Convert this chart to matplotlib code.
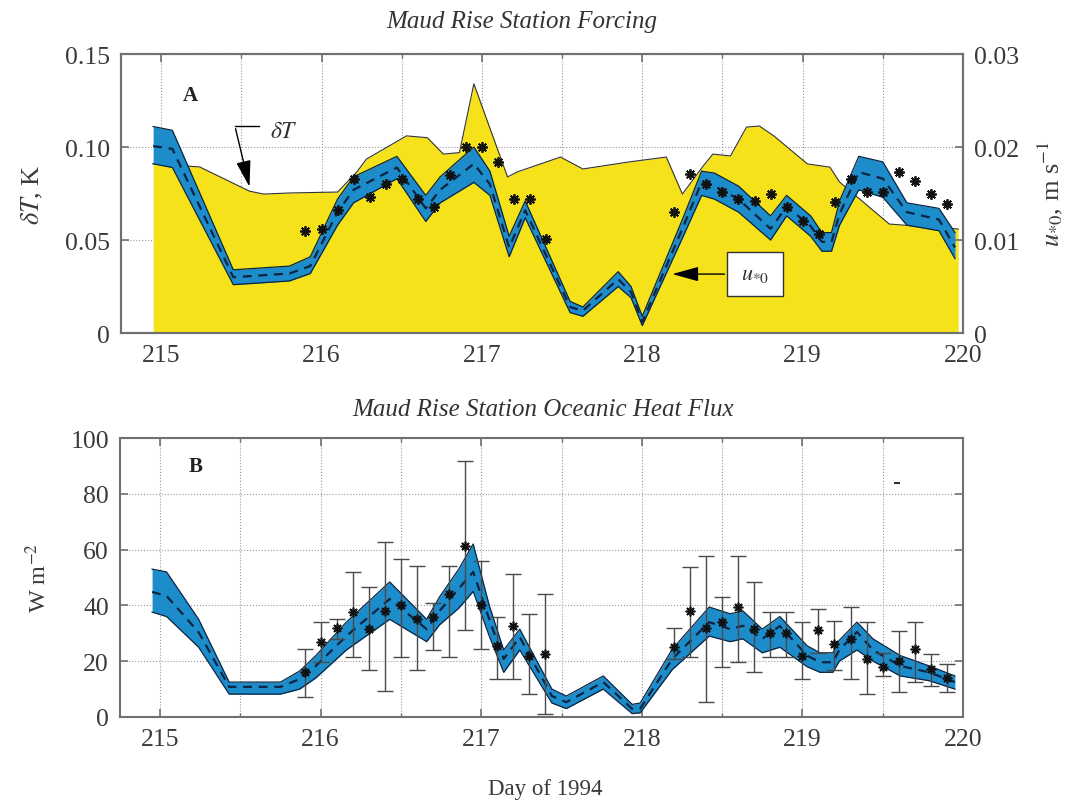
import matplotlib
matplotlib.use('Agg')
import matplotlib.pyplot as plt
from matplotlib.patches import Rectangle
from matplotlib.ticker import MultipleLocator

plt.rcParams['font.family'] = ['Liberation Serif', 'DejaVu Serif']
plt.rcParams['mathtext.fontset'] = 'stix'

# ---------------- Panel A data ----------------
dT_day = [214.95, 215.24, 215.55, 215.64, 215.80, 216.10, 216.22, 216.28, 216.53, 216.66,
          216.76, 216.86, 216.95, 217.16, 217.22, 217.49, 217.63, 217.91, 218.15, 218.25,
          218.38, 218.44, 218.55, 218.65, 218.73, 218.82, 219.03, 219.17, 219.23, 219.54,
          219.71, 219.84, 219.97]
dT_val = [0.091, 0.0893, 0.0763, 0.0747, 0.0753, 0.0758, 0.0866, 0.0935, 0.106, 0.105,
          0.0962, 0.097, 0.134, 0.0839, 0.0866, 0.0946, 0.0882, 0.0919, 0.0946, 0.0747,
          0.0898, 0.0962, 0.0952, 0.1107, 0.1113, 0.106, 0.0909, 0.0892, 0.0812, 0.0586,
          0.0575, 0.057, 0.0559]

u_day = [214.95, 215.07, 215.45, 215.80, 215.93, 216.10, 216.20, 216.47, 216.65, 216.74,
         216.95, 217.05, 217.17, 217.27, 217.55, 217.63, 217.85, 217.93, 218.00, 218.25,
         218.37, 218.45, 218.60, 218.80, 218.90, 219.05, 219.12, 219.18, 219.23, 219.35,
         219.50, 219.65, 219.85, 219.95]
u_mid = [0.0201, 0.0198, 0.0060, 0.0064, 0.0072, 0.0130, 0.0154, 0.0178, 0.0134, 0.0154,
         0.0182, 0.0160, 0.0092, 0.0132, 0.0028, 0.0024, 0.0058, 0.0044, 0.0012, 0.0112,
         0.0162, 0.0158, 0.0144, 0.0112, 0.0136, 0.0115, 0.0098, 0.0098, 0.0128, 0.0173,
         0.0166, 0.0130, 0.0122, 0.0092]
u_hi = [0.0222, 0.0218, 0.0068, 0.0072, 0.0082, 0.0144, 0.0168, 0.0190, 0.0148, 0.0168,
        0.0200, 0.0174, 0.0104, 0.0142, 0.0034, 0.0028, 0.0066, 0.0050, 0.0018, 0.0122,
        0.0174, 0.0172, 0.0158, 0.0126, 0.0148, 0.0126, 0.0108, 0.0108, 0.0142, 0.0190,
        0.0184, 0.0140, 0.0134, 0.0108]
u_lo = [0.0182, 0.0178, 0.0052, 0.0056, 0.0064, 0.0116, 0.0140, 0.0166, 0.0120, 0.0140,
        0.0162, 0.0148, 0.0082, 0.0124, 0.0022, 0.0018, 0.0050, 0.0038, 0.0008, 0.0102,
        0.0148, 0.0144, 0.0130, 0.0100, 0.0126, 0.0104, 0.0088, 0.0088, 0.0116, 0.0154,
        0.0146, 0.0116, 0.0110, 0.0080]

uobs_day = [215.9, 216.0, 216.1, 216.2, 216.3, 216.4, 216.5, 216.6, 216.7, 216.8,
            216.9, 217.0, 217.1, 217.2, 217.3, 217.4,
            218.2, 218.3, 218.4, 218.5, 218.6, 218.7, 218.8, 218.9, 219.0, 219.1,
            219.2, 219.3, 219.4, 219.5, 219.6, 219.7, 219.8, 219.9]
uobs_val = [0.0110, 0.0112, 0.0132, 0.0166, 0.0146, 0.0160, 0.0166, 0.0144, 0.0136, 0.0170,
            0.0200, 0.0200, 0.0184, 0.0144, 0.0144, 0.0101,
            0.0130, 0.0171, 0.0160, 0.0152, 0.0144, 0.0142, 0.0149, 0.0136, 0.0120, 0.0106,
            0.0141, 0.0166, 0.0152, 0.0152, 0.0173, 0.0163, 0.0149, 0.0139]

# ---------------- Panel B data ----------------
q_day = [214.95, 215.04, 215.24, 215.43, 215.75, 215.87, 215.97, 216.16, 216.43, 216.66,
         216.74, 216.86, 216.95, 217.05, 217.14, 217.24, 217.44, 217.53, 217.76, 217.94,
         217.99, 218.19, 218.42, 218.55, 218.63, 218.75, 218.86, 219.03, 219.11, 219.19,
         219.23, 219.34, 219.44, 219.61, 219.79, 219.95]
q_mid = [44.8, 43.4, 30.4, 10.8, 10.8, 13.6, 18.3, 29.0, 42.3, 31.5,
         38.0, 46.0, 52.0, 35.0, 20.8, 28.6, 7.5, 5.3, 12.5, 2.9,
         3.0, 20.8, 34.0, 31.5, 32.7, 28.0, 32.6, 22.0, 19.6, 19.6,
         24.0, 30.5, 24.0, 18.3, 16.0, 12.5]
q_hi = [53.0, 52.0, 35.0, 12.5, 12.5, 16.5, 22.0, 34.0, 48.4, 35.0,
        43.0, 53.0, 62.0, 40.0, 24.0, 31.5, 10.0, 7.5, 14.7, 4.5,
        5.0, 24.3, 39.4, 37.0, 38.0, 31.5, 36.0, 25.5, 23.0, 23.0,
        27.5, 34.0, 28.0, 22.0, 18.3, 14.7]
q_lo = [37.6, 36.0, 25.0, 8.2, 8.2, 10.0, 14.0, 24.0, 35.0, 27.0,
        33.0, 39.0, 45.0, 29.0, 16.0, 24.0, 5.0, 3.0, 10.0, 1.2,
        1.5, 17.0, 29.0, 27.0, 28.0, 23.0, 25.0, 18.0, 16.0, 16.0,
        20.0, 24.0, 20.0, 14.7, 13.0, 10.0]

qobs_day = [215.9, 216.0, 216.1, 216.2, 216.3, 216.4, 216.5, 216.6, 216.7, 216.8,
            216.9, 217.0, 217.1, 217.2, 217.3, 217.4,
            218.2, 218.3, 218.4, 218.5, 218.6, 218.7, 218.8, 218.9, 219.0, 219.1,
            219.2, 219.3, 219.4, 219.5, 219.6, 219.7, 219.8, 219.9]
qobs_val = [16.0, 27.0, 32.0, 37.6, 31.5, 38.0, 40.0, 35.0, 36.0, 44.0,
            61.3, 40.0, 25.5, 32.6, 22.0, 22.6,
            25.0, 38.0, 32.0, 34.0, 39.4, 31.5, 30.0, 30.0, 22.0, 31.0,
            26.0, 28.0, 20.8, 18.0, 20.0, 24.4, 17.2, 14.0]
qobs_lo = [7.2, 19.7, 28.0, 21.5, 17.0, 9.3, 21.5, 17.0, 24.0, 21.5,
           31.0, 24.4, 13.6, 13.6, 8.2, 1.0,
           20.8, 21.5, 5.3, 18.0, 19.7, 16.0, 21.5, 21.5, 13.6, 23.0,
           17.0, 13.6, 8.2, 14.7, 9.0, 12.5, 11.0, 9.0]
qobs_hi = [24.4, 34.0, 35.0, 52.0, 46.6, 62.7, 56.6, 54.0, 41.0, 54.0,
           91.8, 56.0, 36.0, 51.2, 37.0, 44.0,
           32.0, 53.7, 57.7, 43.0, 57.7, 48.4, 37.6, 37.6, 34.0, 38.7,
           34.4, 39.4, 34.0, 23.0, 30.8, 34.0, 22.6, 19.0]

x_ticks = [215, 216, 217, 218, 219, 220]
dT_ticks = [0, 0.05, 0.10, 0.15]
dT_ticklabels = ['0', '0.05', '0.10', '0.15']
u_ticks = [0, 0.01, 0.02, 0.03]
u_ticklabels = ['0', '0.01', '0.02', '0.03']
q_ticks = [0, 20, 40, 60, 80, 100]

YELLOW = '#F5E21B'
BLUE = '#1D8CCB'
EDGE = '#0c2440'
SPINE = '#707070'
TXT = '#3a3a3a'
FS = 18.5

fig = plt.figure(figsize=(10.73, 8.03), dpi=100)


def style(ax):
    for s in ax.spines.values():
        s.set_color(SPINE)
        s.set_linewidth(1.5)
    ax.tick_params(direction='in', colors=SPINE, labelcolor=TXT, labelsize=FS,
                   length=6, width=1.2, pad=8)
    ax.tick_params(which='minor', direction='in', colors=SPINE, length=3, width=1)


# ---------------- Panel A ----------------
ax1 = fig.add_axes([0.1128, 0.584, 0.7847, 0.3475])
ax1.set_axisbelow(True)
ax1.fill_between(dT_day, 0, dT_val, color=YELLOW, lw=0, zorder=1)
ax1.plot(dT_day, dT_val, color='#333333', lw=0.8, zorder=2)
ax1.set_xlim(214.75, 220)
ax1.set_ylim(0, 0.15)
ax1.set_xticks(x_ticks)
ax1.xaxis.set_minor_locator(MultipleLocator(0.5))
ax1.set_yticks(dT_ticks)
ax1.set_yticklabels(dT_ticklabels)
ax1.tick_params(top=True, which='both')
ax1.grid(True, which='both', axis='x', ls=':', color='#999999', lw=0.8)
ax1.grid(True, which='major', axis='y', ls=':', color='#999999', lw=0.8)
style(ax1)
ax1.set_ylabel(r'$\delta T$, K', fontsize=19, color=TXT, labelpad=14)

ax1.text(215.18, 0.128, 'A', fontsize=15, fontweight='bold', color='#222222',
         ha='center', va='center')
ax1.text(215.68, 0.1086, r'$\delta T$', fontsize=17, color='#333333', ha='left', va='center')
ax1.plot([215.61, 215.46], [0.1113, 0.1113], color='k', lw=1.0, zorder=5)
ax1.annotate('', xy=(215.555, 0.0772), xytext=(215.46, 0.1113),
             arrowprops=dict(arrowstyle='-|>,head_length=0.9,head_width=0.25',
                             color='k', lw=1.0, mutation_scale=18), zorder=5)

ax1r = ax1.twinx()
ax1r.fill_between(u_day, u_lo, u_hi, color=BLUE, lw=0, zorder=2)
ax1r.plot(u_day, u_hi, color=EDGE, lw=0.9, zorder=3)
ax1r.plot(u_day, u_lo, color=EDGE, lw=0.9, zorder=3)
ax1r.plot(u_day, u_mid, color=EDGE, lw=1.6, ls=(0, (4, 3)), zorder=3)
ax1r.plot(uobs_day, uobs_val, ls='none', marker=(8, 2, 0), ms=7.5, mec='#111111',
          mew=1.3, zorder=4)
ax1r.set_ylim(0, 0.03)
ax1r.set_yticks(u_ticks)
ax1r.set_yticklabels(u_ticklabels)
style(ax1r)
ax1r.set_ylabel(r'$u_{*0}$, m s$^{-1}$', fontsize=19, color=TXT, labelpad=12,
                rotation=90)
ax1r.add_patch(Rectangle((218.53, 0.00398), 0.35, 0.00472, fc='white',
                         ec='#333333', lw=1.0, zorder=6))
ax1r.text(218.705, 0.00634, r'$u_{*0}$', fontsize=16, color='#333333',
          ha='center', va='center', zorder=7)
ax1r.annotate('', xy=(218.17, 0.00634), xytext=(218.53, 0.00634),
              arrowprops=dict(arrowstyle='-|>,head_length=0.9,head_width=0.25',
                              color='k', lw=1.0, mutation_scale=18), zorder=6)

# ---------------- Panel B ----------------
ax2 = fig.add_axes([0.1118, 0.1059, 0.7856, 0.3474])
ax2.set_axisbelow(True)
ax2.fill_between(q_day, q_lo, q_hi, color=BLUE, lw=0, zorder=2)
ax2.plot(q_day, q_hi, color=EDGE, lw=0.9, zorder=3)
ax2.plot(q_day, q_lo, color=EDGE, lw=0.9, zorder=3)
ax2.plot(q_day, q_mid, color=EDGE, lw=1.6, ls=(0, (4, 3)), zorder=3)
yerr = [[v - l for v, l in zip(qobs_val, qobs_lo)], [h - v for v, h in zip(qobs_val, qobs_hi)]]
ax2.errorbar(qobs_day, qobs_val, yerr=yerr, fmt='none', ecolor='#4a4a4a',
             elinewidth=1.0, capsize=6, capthick=1.0, zorder=4)
ax2.plot(qobs_day, qobs_val, ls='none', marker=(8, 2, 0), ms=7, mec='#111111',
         mew=1.2, zorder=5)
ax2.plot([219.59], [84], ls='none', marker='_', ms=4, mec='#333333', mew=1.5)
ax2.set_xlim(214.75, 220)
ax2.set_ylim(0, 100)
ax2.set_xticks(x_ticks)
ax2.xaxis.set_minor_locator(MultipleLocator(0.5))
ax2.set_yticks(q_ticks)
ax2.tick_params(top=True, right=True, which='both')
ax2.grid(True, which='both', axis='x', ls=':', color='#999999', lw=0.8)
ax2.grid(True, which='major', axis='y', ls=':', color='#999999', lw=0.8)
style(ax2)
ax2.set_ylabel(r'W m$^{-2}$', fontsize=17.5, color=TXT, labelpad=14)
ax2.text(215.22, 90, 'B', fontsize=15, fontweight='bold', color='#222222',
         ha='center', va='center')

fig.text(522 / 1073, 1 - 22 / 803, 'Maud Rise Station Forcing', fontsize=18,
         style='italic', color='#333333', ha='center', va='center')
fig.text(543 / 1073, 1 - 410 / 803, 'Maud Rise Station Oceanic Heat Flux', fontsize=18,
         style='italic', color='#333333', ha='center', va='center')
fig.text(545 / 1073, 1 - 790 / 803, 'Day of 1994', fontsize=16.5, color=TXT,
         ha='center', va='center')

fig.savefig('out.png', dpi=100)
